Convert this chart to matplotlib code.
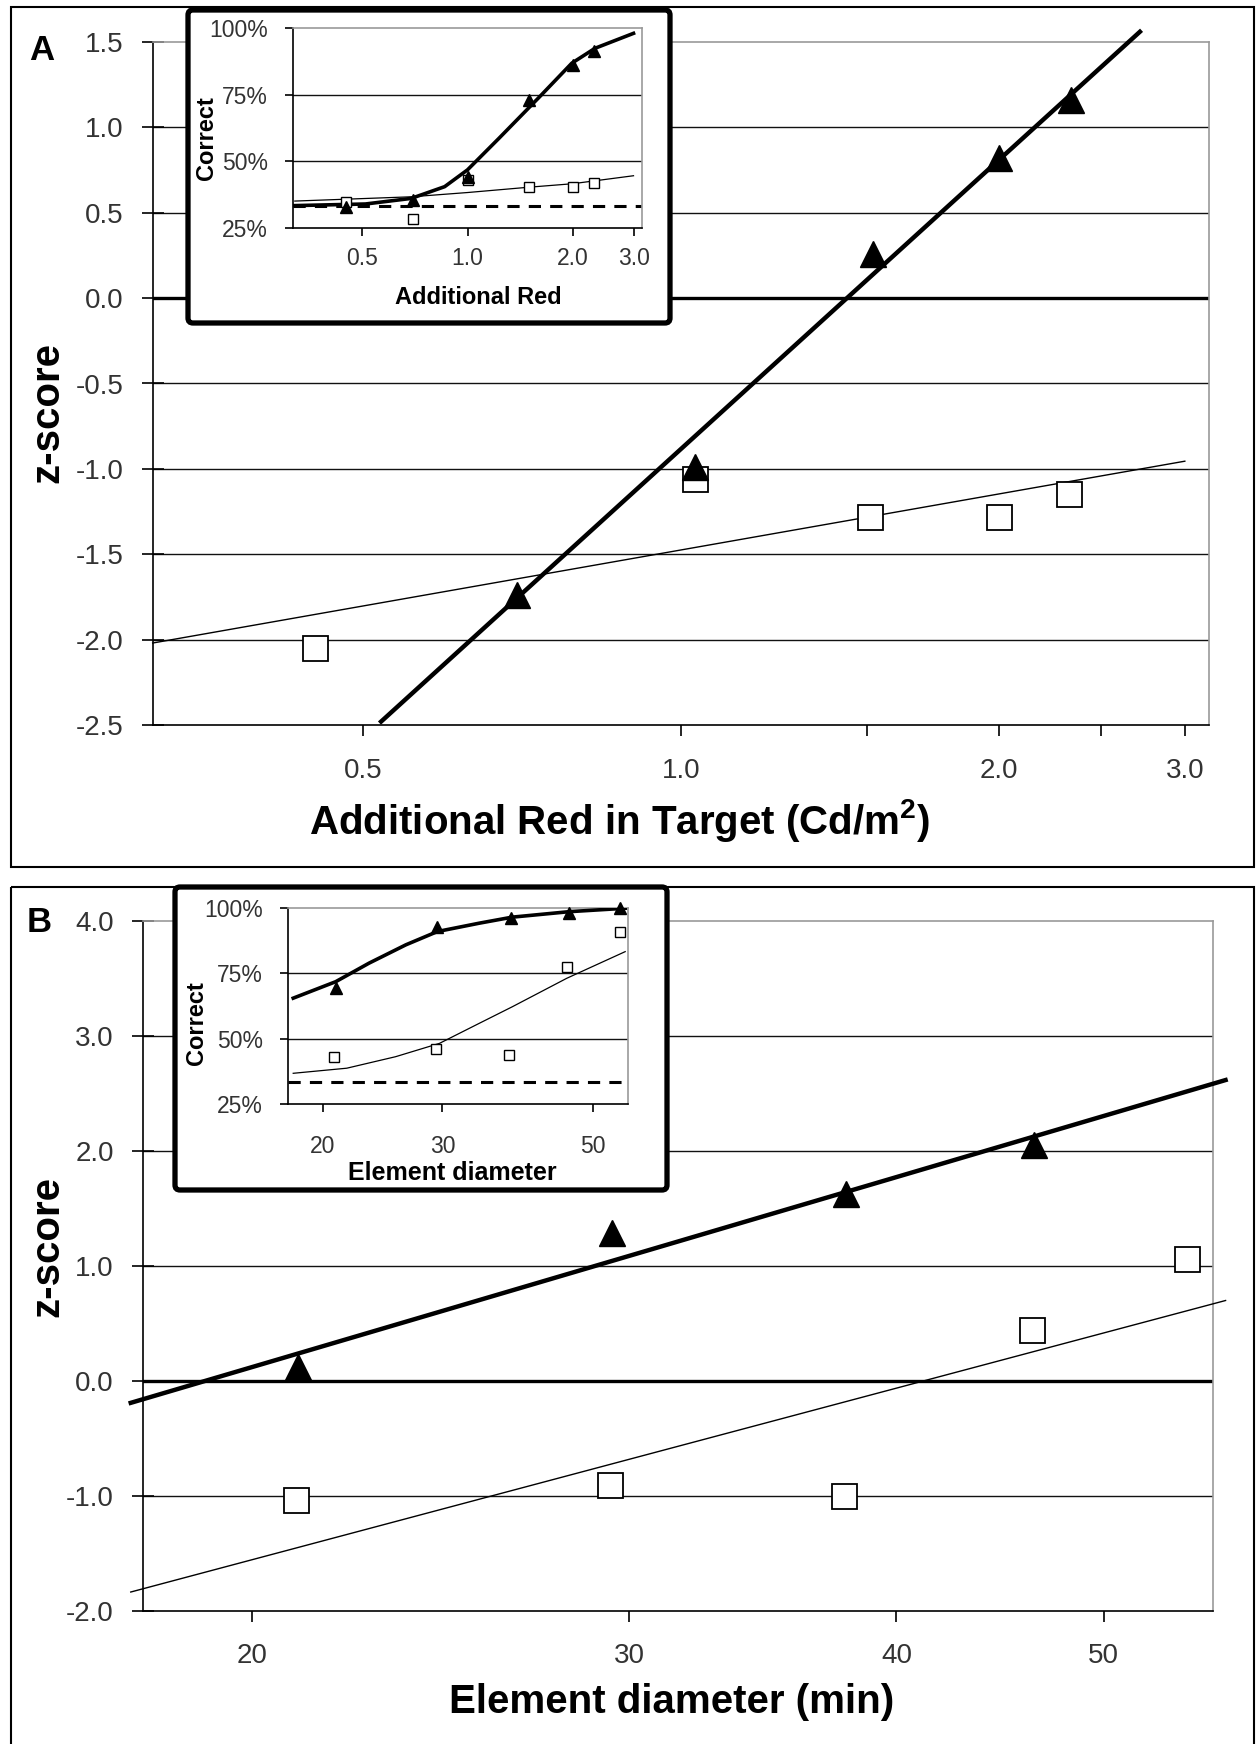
import matplotlib
matplotlib.use("Agg")
import matplotlib.pyplot as plt
from matplotlib.patches import Rectangle, FancyBboxPatch
from matplotlib.ticker import NullLocator

plt.rcParams['font.family'] = ['Liberation Sans', 'DejaVu Sans']
plt.rcParams['axes.unicode_minus'] = False
plt.rcParams['mathtext.fontset'] = 'custom'
plt.rcParams['mathtext.bf'] = 'Liberation Sans:bold'
plt.rcParams['mathtext.rm'] = 'Liberation Sans:bold'

W, H = 1256, 1744

# ---- panel A, main (z-score vs additional red) ----
a_tri_x = [0.70, 1.03, 1.52, 2.00, 2.34]
a_tri_z = [-1.74, -0.99, 0.26, 0.82, 1.16]
a_sq_x = [0.45, 1.03, 1.51, 2.00, 2.33]
a_sq_z = [-2.05, -1.06, -1.28, -1.28, -1.15]
a_fit_tri_x = [0.52, 2.72]
a_fit_tri_z = [-2.48, 1.56]
a_fit_sq_x = [0.316, 3.0]
a_fit_sq_z = [-2.02, -0.955]
a_xticks = [0.5, 1.0, 1.5, 2.0, 2.5, 3.0]
a_xlabels = ['0.5', '1.0', '', '2.0', '', '3.0']
a_yticks = [-2.5, -2.0, -1.5, -1.0, -0.5, 0.0, 0.5, 1.0, 1.5]

# ---- panel A, inset (% correct) ----
ia_tri_x = [0.45, 0.70, 1.0, 1.5, 2.0, 2.3]
ia_tri_p = [33.0, 35.5, 44.0, 73.0, 86.0, 91.5]
ia_sq_x = [0.45, 0.70, 1.0, 1.5, 2.0, 2.3]
ia_sq_p = [34.8, 28.4, 43.0, 40.4, 40.4, 42.0]
ia_curve_x = [0.32, 0.51, 0.69, 0.86, 1.0, 1.23, 1.62, 1.99, 2.32, 2.99]
ia_curve_p = [33.4, 34.0, 36.1, 40.5, 46.8, 58.6, 74.6, 86.8, 92.4, 98.0]
ia_thin_x = [0.32, 0.69, 1.0, 1.5, 2.0, 2.99]
ia_thin_p = [35.1, 36.7, 38.3, 40.3, 41.6, 44.6]
ia_xticks = [0.5, 1.0, 2.0, 3.0]
ia_xlabels = ['0.5', '1.0', '2.0', '3.0']

# ---- panel B, main (z-score vs element diameter) ----
b_tri_x = [21.0, 29.45, 37.9, 46.4]
b_tri_z = [0.12, 1.29, 1.63, 2.05]
b_sq_x = [20.96, 29.4, 37.8, 46.3, 54.7]
b_sq_z = [-1.035, -0.90, -1.0, 0.44, 1.06]
b_fit_tri_x = [17.55, 57.0]
b_fit_tri_z = [-0.19, 2.617]
b_fit_sq_x = [17.55, 57.0]
b_fit_sq_z = [-1.835, 0.70]
b_xticks = [20, 30, 40, 50]
b_xlabels = ['20', '30', '40', '50']
b_yticks = [-2.0, -1.0, 0.0, 1.0, 2.0, 3.0, 4.0]

# ---- panel B, inset ----
ib_tri_x = [20.9, 29.5, 37.8, 46.1, 54.8]
ib_tri_p = [69.3, 92.9, 96.1, 98.2, 99.9]
ib_sq_x = [20.8, 29.4, 37.6, 45.7, 54.7]
ib_sq_p = [43.1, 45.9, 43.75, 77.5, 90.9]
ib_curve_x = [18.1, 20.9, 23.4, 26.5, 29.5, 34.0, 38.0, 46.1, 55.7]
ib_curve_p = [65.5, 71.8, 78.9, 85.9, 91.0, 94.2, 96.5, 98.6, 99.9]
ib_thin_x = [18.1, 21.7, 25.6, 29.7, 34.0, 38.0, 45.7, 55.7]
ib_thin_p = [36.75, 38.7, 43.1, 48.2, 55.9, 62.2, 73.1, 83.3]
ib_xticks = [20, 30, 50]
ib_xlabels = ['20', '30', '50']

pct_ticks = [25, 50, 75, 100]
pct_labels = ['25%', '50%', '75%', '100%']
chance = 33.3


def box(l, t, r, b):
    return [l / W, 1 - b / H, (r - l) / W, (b - t) / H]


def frame_axes(ax, grid):
    for s in ['top', 'right']:
        ax.spines[s].set_color('#999999')
        ax.spines[s].set_linewidth(1.2)
    for s in ['left', 'bottom']:
        ax.spines[s].set_color('black')
        ax.spines[s].set_linewidth(1.2)
    for y in grid:
        ax.axhline(y, color='#111111', lw=1.0, zorder=1)


def main_panel(ax, xlim, ylim, xticks, xlabels, yticks, xpad):
    ax.set_xscale('log')
    ax.set_xlim(*xlim)
    ax.set_ylim(*ylim)
    ax.set_xticks(xticks)
    ax.set_xticklabels(xlabels)
    ax.xaxis.set_minor_locator(NullLocator())
    ax.set_yticks(yticks)
    ax.set_yticklabels(['%.1f' % v for v in yticks])
    frame_axes(ax, [v for v in yticks[1:-1] if v != 0])
    ax.axhline(0, color='black', lw=2.4, zorder=1.5)
    ax.tick_params(axis='y', direction='inout', length=16, width=1.2, pad=13,
                   labelsize=20, labelcolor='#333333')
    ax.tick_params(axis='x', direction='out', length=8, width=1.2, pad=xpad,
                   labelsize=20, labelcolor='#333333')


def inset_panel(ax, xlim, xticks, xlabels, xpad):
    ax.set_xscale('log')
    ax.set_xlim(*xlim)
    ax.set_ylim(25, 100)
    ax.set_xticks(xticks)
    ax.set_xticklabels(xlabels)
    ax.xaxis.set_minor_locator(NullLocator())
    ax.set_yticks(pct_ticks)
    ax.set_yticklabels(pct_labels)
    frame_axes(ax, [50, 75])
    ax.axhline(chance, color='black', lw=2.2, dashes=(4, 3), zorder=2)
    ax.tick_params(axis='y', direction='out', length=6, width=1.2, pad=12,
                   labelsize=16.5, labelcolor='#333333')
    ax.tick_params(axis='x', direction='out', length=6, width=1.2, pad=xpad,
                   labelsize=16.5, labelcolor='#333333')


fig = plt.figure(figsize=(W / 100, H / 100), dpi=100)

# main A
axA = fig.add_axes(box(153, 42, 1209, 725), zorder=1)
main_panel(axA, (10 ** -0.5, 10 ** 0.5), (-2.5, 1.5), a_xticks, a_xlabels, a_yticks, 16)
axA.plot(a_fit_sq_x, a_fit_sq_z, color='black', lw=1.0, zorder=3, clip_on=False)
axA.plot(a_fit_tri_x, a_fit_tri_z, color='black', lw=3.2, zorder=4, clip_on=False)
axA.plot(a_sq_x, a_sq_z, 's', ms=18, mfc='white', mec='black', mew=1.3, zorder=5, clip_on=False)
axA.plot(a_tri_x, a_tri_z, '^', ms=19, color='black', zorder=6, clip_on=False)

# main B
axB = fig.add_axes(box(143, 921, 1213, 1611), zorder=1)
main_panel(axB, (10 ** 1.25, 10 ** 1.75), (-2.0, 4.0), b_xticks, b_xlabels, b_yticks, 15)
axB.plot(b_fit_sq_x, b_fit_sq_z, color='black', lw=1.0, zorder=3, clip_on=False)
axB.plot(b_fit_tri_x, b_fit_tri_z, color='black', lw=3.2, zorder=4, clip_on=False)
axB.plot(b_sq_x, b_sq_z, 's', ms=18, mfc='white', mec='black', mew=1.3, zorder=5, clip_on=False)
axB.plot(b_tri_x, b_tri_z, '^', ms=19, color='black', zorder=6, clip_on=False)

# overlay for panel frames and inset boxes
ov = fig.add_axes([0, 0, 1, 1], zorder=2)
ov.set_xlim(0, W)
ov.set_ylim(H, 0)
ov.axis('off')
ov.add_patch(Rectangle((11, 7), 1243, 860, fill=False, ec='black', lw=1.5))
ov.add_patch(Rectangle((11, 887), 1243, 870, fill=False, ec='black', lw=1.5, clip_on=False))
for l, t, r, b in [(188, 10, 670, 323), (175, 887, 667, 1190)]:
    ov.add_patch(FancyBboxPatch((l, t), r - l, b - t, boxstyle='round,pad=0,rounding_size=5',
                                fc='white', ec='black', lw=3.8))

# inset A
iA = fig.add_axes(box(293, 28, 642, 228), zorder=3)
inset_panel(iA, (10 ** -0.5, 10 ** 0.5), ia_xticks, ia_xlabels, 8)
iA.plot(ia_thin_x, ia_thin_p, color='black', lw=0.9, zorder=3, clip_on=False)
iA.plot(ia_curve_x, ia_curve_p, color='black', lw=2.6, zorder=4, clip_on=False)
iA.plot(ia_sq_x, ia_sq_p, 's', ms=7, mfc='white', mec='black', mew=1.0, zorder=5)
iA.plot(ia_tri_x, ia_tri_p, '^', ms=8, color='black', zorder=6)

# inset B
iB = fig.add_axes(box(288, 908, 628, 1104), zorder=3)
inset_panel(iB, (10 ** 1.25, 10 ** 1.75), ib_xticks, ib_xlabels, 16)
iB.plot(ib_thin_x, ib_thin_p, color='black', lw=0.9, zorder=3)
iB.plot(ib_curve_x, ib_curve_p, color='black', lw=2.6, zorder=4)
iB.plot(ib_sq_x, ib_sq_p, 's', ms=7, mfc='white', mec='black', mew=1.0, zorder=5)
iB.plot(ib_tri_x, ib_tri_p, '^', ms=8, color='black', zorder=6, clip_on=False)

# texts (pixel positions)
def ftext(x, y, s, **kw):
    ov.text(x, y, s, ha='center', va='center', **kw)

ftext(42, 51, 'A', fontsize=25, fontweight='bold')
ftext(39, 922, 'B', fontsize=25, fontweight='bold')
ftext(619, 820, r'Additional Red in Target (Cd/m$^{\mathbf{2}}$)', fontsize=29, fontweight='bold')
ftext(672, 1702, 'Element diameter (min)', fontsize=29, fontweight='bold')
ftext(47, 412, 'z-score', fontsize=29, fontweight='bold', rotation=90)
ftext(47, 1246, 'z-score', fontsize=29, fontweight='bold', rotation=90)
ftext(207, 138, 'Correct', fontsize=17, fontweight='bold', rotation=90, zorder=10)
ftext(478, 297, 'Additional Red', fontsize=17, fontweight='bold', zorder=10)
ftext(196, 1023, 'Correct', fontsize=17, fontweight='bold', rotation=90, zorder=10)
ftext(452, 1173, 'Element diameter', fontsize=18, fontweight='bold', zorder=10)

fig.savefig('out.png', dpi=100, facecolor='white')
